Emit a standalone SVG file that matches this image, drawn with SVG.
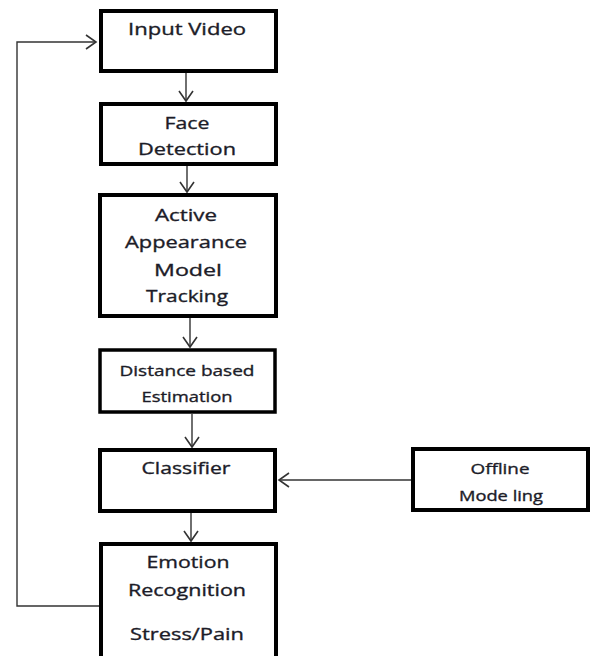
<svg xmlns="http://www.w3.org/2000/svg" width="591" height="656" viewBox="0 0 591 656">
<defs>
<style>
.box{fill:#fff;stroke:#000;stroke-width:4}
.t{font-family:"Open Sans","Liberation Sans",sans-serif;font-size:17px;fill:#1c1c28;stroke:#1c1c28;stroke-width:0.35;text-anchor:middle}
.s{font-size:15px}
.c{fill:none;stroke:#333;stroke-width:1.4}
</style>
<marker id="ah" markerUnits="userSpaceOnUse" markerWidth="14" markerHeight="18" viewBox="0 0 14 18" refX="12" refY="9" orient="auto">
<path d="M2,2 L12,9 L2,16" fill="none" stroke="#333" stroke-width="1.6"/>
</marker>
</defs>
<rect width="591" height="656" fill="#fff"/>
<g id="connectors">
<line class="c" x1="186" y1="73" x2="186" y2="101" marker-end="url(#ah)"/>
<line class="c" x1="187" y1="166" x2="187" y2="192" marker-end="url(#ah)"/>
<line class="c" x1="190" y1="318" x2="190" y2="347" marker-end="url(#ah)"/>
<line class="c" x1="192" y1="414" x2="192" y2="447" marker-end="url(#ah)"/>
<line class="c" x1="191" y1="513" x2="191" y2="541" marker-end="url(#ah)"/>
<line class="c" x1="411" y1="480" x2="279" y2="480" marker-end="url(#ah)"/>
<polyline class="c" points="100,606 17,606 17,42 96,42" marker-end="url(#ah)"/>
</g>
<g id="input-video">
<rect class="box" x="101" y="11" width="175" height="60"/>
<text class="t" x="187" y="35" textLength="118" lengthAdjust="spacingAndGlyphs">Input Video</text>
</g>
<g id="face-detection">
<rect class="box" x="101" y="104" width="175" height="60"/>
<text class="t" x="187" y="129" textLength="45" lengthAdjust="spacingAndGlyphs">Face</text>
<text class="t" x="187" y="155" textLength="98" lengthAdjust="spacingAndGlyphs">Detection</text>
</g>
<g id="aam-tracking">
<rect class="box" x="100" y="195" width="176" height="121"/>
<text class="t" x="186" y="221" textLength="62" lengthAdjust="spacingAndGlyphs">Active</text>
<text class="t" x="186" y="248" textLength="122" lengthAdjust="spacingAndGlyphs">Appearance</text>
<text class="t" x="188" y="276" textLength="68" lengthAdjust="spacingAndGlyphs">Model</text>
<text class="t" x="187" y="302" textLength="82" lengthAdjust="spacingAndGlyphs">Tracking</text>
</g>
<g id="distance-estimation">
<rect class="box" x="100" y="350" width="175" height="62" style="stroke-width:3.5"/>
<text class="t s" x="187" y="376" textLength="135" lengthAdjust="spacingAndGlyphs">Distance based</text>
<text class="t s" x="187" y="402" textLength="91" lengthAdjust="spacingAndGlyphs">Estimation</text>
</g>
<g id="classifier">
<rect class="box" x="100" y="450" width="175" height="61"/>
<text class="t" x="186" y="474" textLength="89" lengthAdjust="spacingAndGlyphs">Classifier</text>
</g>
<g id="offline-modeling">
<rect class="box" x="413" y="449" width="175" height="61"/>
<text class="t s" x="500" y="474" textLength="59" lengthAdjust="spacingAndGlyphs">Offline</text>
<text class="t s" x="501" y="501" textLength="84" lengthAdjust="spacingAndGlyphs">Mode ling</text>
</g>
<g id="emotion-recognition">
<rect class="box" x="101" y="544" width="175" height="122"/>
<text class="t" x="188" y="568" textLength="83" lengthAdjust="spacingAndGlyphs">Emotion</text>
<text class="t" x="187" y="596" textLength="118" lengthAdjust="spacingAndGlyphs">Recognition</text>
<text class="t" x="187" y="640" textLength="114" lengthAdjust="spacingAndGlyphs">Stress/Pain</text>
</g>
</svg>
